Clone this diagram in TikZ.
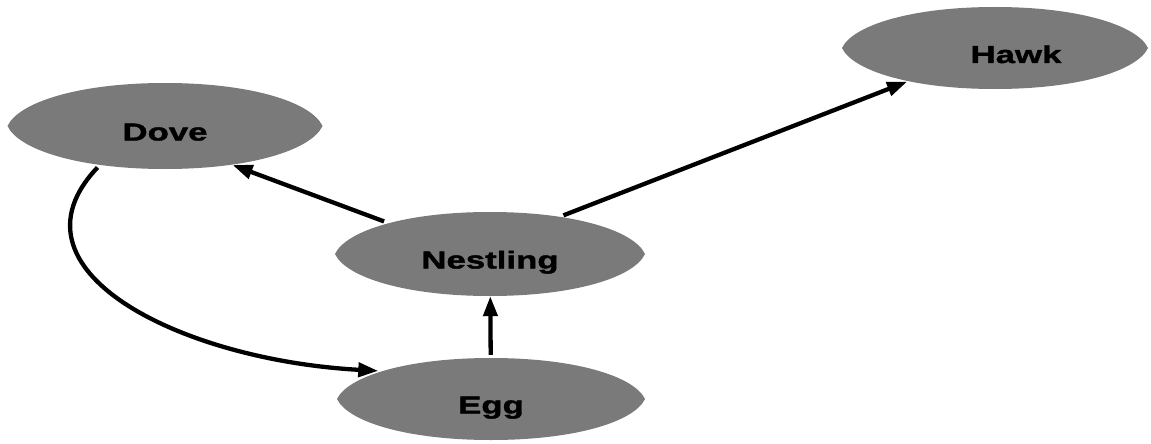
\documentclass[tikz,border=0pt]{standalone}
\usepackage{fontspec}
\usetikzlibrary{shapes.geometric,arrows.meta}
\newfontfamily\lblfont[FakeStretch=1.42,FakeBold=1.6]{Liberation Sans}
\newcommand\blobshape[3]{% center, half width, half height
  \fill[blobcolor, shift={#1}]
    (#2,0) .. controls (0.93*#2,0.55*#3) and (0.55*#2,#3) .. (0,#3)
    .. controls (-0.55*#2,#3) and (-0.93*#2,0.55*#3) .. (-#2,0)
    .. controls (-0.93*#2,-0.55*#3) and (-0.55*#2,-#3) .. (0,-#3)
    .. controls (0.55*#2,-#3) and (0.93*#2,-0.55*#3) .. (#2,0) -- cycle;}
\colorlet{blobcolor}{black!52}
\begin{document}
\begin{tikzpicture}[x=1pt,y=-1pt,
  blob/.style={ellipse, draw=none, inner sep=0pt,
    minimum width=310pt, minimum height=84pt, text height=29pt, text depth=0pt,
    font=\lblfont\bfseries\fontsize{24.5}{26}\selectfont},
  lbl/.style={inner sep=0pt, font=\lblfont\bfseries\fontsize{24.5}{26}\selectfont},
  link/.style={line width=4.3pt, shorten <=3pt, -{Triangle[length=20pt,width=14pt]}}]
\useasboundingbox (0,0) rectangle (1151,444);
\coordinate (cdove) at (165,126);
\coordinate (cnest) at (490,254);
\coordinate (cegg) at (491,399);
\coordinate (chawk) at (995,48);
\blobshape{(cdove)}{157.5}{43}
\blobshape{(cnest)}{155}{42}
\blobshape{(cegg)}{154}{41}
\blobshape{(chawk)}{153}{41}
\node[blob, minimum width=315pt, minimum height=86pt] (dove) at (cdove) {Dove};
\node[blob] (nest) at (cnest) {Nestling};
\node[blob, minimum width=308pt, minimum height=82pt] (egg) at (cegg) {Egg};
\node[blob, minimum width=306pt, minimum height=82pt] (hawk) at (chawk) {};
\node[lbl, anchor=base] (hawktext) at (1016,63) {Hawk};
\draw[link] (nest.163.8) -- (dove.-30.4);
\draw[link] (nest.28.6) -- (hawk.201.8);
\draw[link] (egg) -- (nest);
\draw[link] (dove.211) .. controls (0,270) and (180,360) .. (egg.166.7);
\end{tikzpicture}
\end{document}
